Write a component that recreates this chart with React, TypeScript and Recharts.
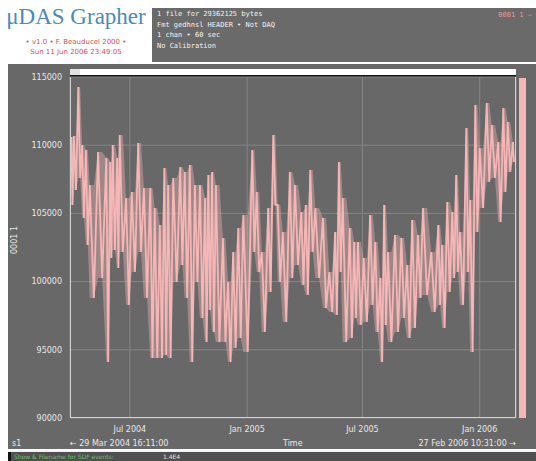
import React from 'react';
import { ComposedChart, Line, Area, XAxis, YAxis, CartesianGrid } from 'recharts';

// days since 29 Mar 2004 16:11:00, sampled columns of the trace
const days = [
  2, 6, 13, 19, 25, 31, 44, 57, 63, 67, 74, 78, 88, 97, 107, 116, 126, 133, 141, 148,
  154, 162, 173, 180, 188, 196, 204, 212, 217, 223, 229, 240, 248, 256, 264, 272, 286, 293, 301, 311,
  319, 326, 334, 345, 353, 363, 370, 377, 385, 397, 407, 416, 422, 428, 439, 446, 452, 461, 471, 479,
  487, 493, 499, 510, 520, 529, 537, 546, 554, 567, 578, 584, 592, 600, 606, 612, 622, 628, 636, 643,
  654, 662, 672, 680, 687, 695,
];

// upper envelope of each column
const highs = [
  110600, 110680, 114270, 110010, 109650, 107080, 109500, 109060, 108770, 110010, 109060, 110750, 106130, 106570, 110160, 106860, 106860, 105400, 104150, 108330,
  107080, 107600, 108400, 108040, 108550, 107080, 107080, 106130, 107820, 108040, 107080, 103200, 99970, 102170, 103930, 104880, 109650, 106570, 102170, 105400,
  110750, 105620, 103640, 108040, 107080, 105100, 105620, 108180, 105400, 104660, 100700, 103640, 108770, 106130, 103930, 102900, 102900, 101730, 104880, 102900,
  100270, 105620, 102170, 103420, 103200, 101220, 104520, 103420, 105400, 102170, 104150, 102680, 105840, 105100, 107820, 103640, 111260, 105980, 112950, 109800,
  113100, 111480, 110230, 112730, 111700, 110230,
];

// lower envelope of each column
const lows = [
  105620, 106720, 107600, 104660, 102680, 98800, 100270, 94110, 101730, 102320, 101000, 102170, 98290, 100700, 102170, 98800, 94400, 94400, 94400, 94620,
  94400, 99970, 101220, 98800, 94110, 99970, 97330, 95570, 97920, 96310, 95570, 95570, 94110, 95130, 95870, 94840, 102170, 100700, 96310, 99240,
  105620, 99970, 97040, 100270, 101220, 99750, 99020, 102170, 100270, 98070, 97770, 97550, 100700, 95570, 95870, 97330, 96820, 97040, 98290, 96310,
  94110, 96820, 95570, 96310, 97330, 95870, 96600, 98800, 99020, 97770, 98290, 96600, 99240, 100270, 100700, 98290, 100700, 94840, 103640, 105400,
  107300, 107600, 104370, 106570, 108040, 108770,
];

const yTicks = [90000, 95000, 100000, 105000, 110000, 115000];
const xTicks = [94, 278, 459, 643];
const xTickLabels = ['Jul 2004', 'Jan 2005', 'Jul 2005', 'Jan 2006'];

const infoLines = [
  '1 file for 29362125 bytes',
  'Fmt gedhnsl HEADER \u2022 Not DAQ',
  '1 chan \u2022 60 sec',
  'No Calibration',
];

// zigzag between the envelopes so the trace reads as a dense band
const chartData: { t: number; v: number; band: [number, number] }[] = [];
days.forEach((d, i) => {
  const next = i < days.length - 1 ? days[i + 1] : d + 4;
  chartData.push({ t: d, v: highs[i], band: [lows[i], highs[i]] });
  chartData.push({ t: (d + next) / 2, v: lows[i], band: [lows[i], highs[i]] });
});

const PANEL = '#686868';
const TEXT = '#e8e8e8';
const PINK = '#f4b6b6';

const abs = (s: React.CSSProperties): React.CSSProperties => ({ position: 'absolute', ...s });

export default function App() {
  const tickStyle = { fill: TEXT, fontSize: 8, fontFamily: 'DejaVu Sans' };

  return (
    <div style={{ position: 'relative', width: 536, height: 461, background: '#ffffff', overflow: 'hidden', fontFamily: 'DejaVu Sans' }}>
      <style>{'body{margin:0}'}</style>

      {/* title block */}
      <div style={abs({ left: 0, top: 4, width: 152, textAlign: 'center', fontFamily: 'Liberation Serif', fontSize: 23, color: '#4a8bb3', lineHeight: '26px' })}>
        {'\u03bcDAS Grapher'}
      </div>
      <div style={abs({ left: 0, top: 38, width: 152, textAlign: 'center', fontSize: 7, color: '#d65050', lineHeight: '9px' })}>
        {'\u2022 v1.0 \u2022 F. Beauducel 2000 \u2022'}
      </div>
      <div style={abs({ left: 0, top: 48, width: 152, textAlign: 'center', fontSize: 7, color: '#d65050', lineHeight: '9px' })}>
        Sun 11 Jun 2006 23:49:05
      </div>

      {/* info box */}
      <div style={abs({ left: 152, top: 8, width: 384, height: 54, background: '#6a6a6a' })} />
      {infoLines.map((line, i) => (
        <div key={line} style={abs({ left: 157, top: 10 + i * 10.5, fontFamily: 'DejaVu Sans Mono', fontSize: 7, color: '#f2f2f2', lineHeight: '9px', whiteSpace: 'pre' })}>
          {line}
        </div>
      ))}
      <div style={abs({ right: 4, top: 11, fontFamily: 'DejaVu Sans Mono', fontSize: 7, color: '#e39a9a', lineHeight: '9px' })}>
        {'0001 1 \u2013'}
      </div>

      {/* main panel */}
      <div style={abs({ left: 8, top: 64, width: 528, height: 385, background: PANEL })} />
      <div style={abs({ left: 70, top: 69, width: 446, height: 6, background: '#ffffff', borderBottom: '2px solid #151515' })} />
      <div style={abs({ left: 70, top: 69, width: 10, height: 6, background: '#e2e2e2' })} />
      <div style={abs({ left: 519, top: 78, width: 7, height: 340, background: PINK })} />

      <div style={abs({ left: 0, top: 0 })}>
        <ComposedChart width={536} height={461} data={chartData} margin={{ top: 77, right: 20, bottom: 13, left: 0 }}>
          <CartesianGrid stroke="#858585" strokeWidth={1} />
          <XAxis
            dataKey="t"
            type="number"
            domain={[0, 700]}
            ticks={xTicks}
            tickFormatter={(v: number) => xTickLabels[xTicks.indexOf(v)] ?? ''}
            tick={tickStyle}
            axisLine={false}
            tickLine={false}
            height={30}
          />
          <YAxis
            type="number"
            domain={[90000, 115000]}
            ticks={yTicks}
            tick={tickStyle}
            axisLine={false}
            tickLine={false}
            width={70}
          />
          <Area
            type="linear"
            dataKey="band"
            stroke="none"
            fill={PINK}
            fillOpacity={0.4}
            isAnimationActive={false}
          />
          <Line
            type="linear"
            dataKey="v"
            stroke={PINK}
            strokeWidth={1.8}
            dot={false}
            isAnimationActive={false}
          />
        </ComposedChart>
      </div>

      {/* plot frame */}
      <div style={abs({ left: 70, top: 77, width: 446, height: 341, boxSizing: 'border-box', borderLeft: '1px solid #d4d4d4', borderRight: '1px solid #d4d4d4', borderBottom: '1px solid #d4d4d4' })} />

      {/* axis captions */}
      <div style={abs({ left: 14, top: 240, transform: 'translate(-50%, -50%) rotate(-90deg)', fontSize: 8, color: TEXT, whiteSpace: 'pre' })}>
        0001 1
      </div>
      <div style={abs({ left: 12, top: 439, fontSize: 8, color: TEXT })}>s1</div>
      <div style={abs({ left: 70, top: 439, fontSize: 8, color: TEXT, whiteSpace: 'pre' })}>
        {'\u2190 29 Mar 2004 16:11:00'}
      </div>
      <div style={abs({ left: 283, top: 439, fontSize: 8, color: TEXT })}>Time</div>
      <div style={abs({ right: 20, top: 439, fontSize: 8, color: TEXT, whiteSpace: 'pre' })}>
        {'27 Feb 2006 10:31:00 \u2192'}
      </div>

      {/* status strip */}
      <div style={abs({ left: 8, top: 450, width: 528, height: 2, background: '#f4f4f4' })} />
      <div style={abs({ left: 8, top: 452, width: 528, height: 9, background: '#505050' })} />
      <div style={abs({ left: 8, top: 452, width: 3, height: 9, background: '#111111' })} />
      <div style={abs({ left: 14, top: 452, fontSize: 6, color: '#6fbf6f', lineHeight: '9px', whiteSpace: 'pre' })}>
        {'Show & Filename for SDF events:'}
      </div>
      <div style={abs({ left: 163, top: 452, fontSize: 6, color: '#e0e0e0', lineHeight: '9px' })}>1.4E4</div>
    </div>
  );
}
